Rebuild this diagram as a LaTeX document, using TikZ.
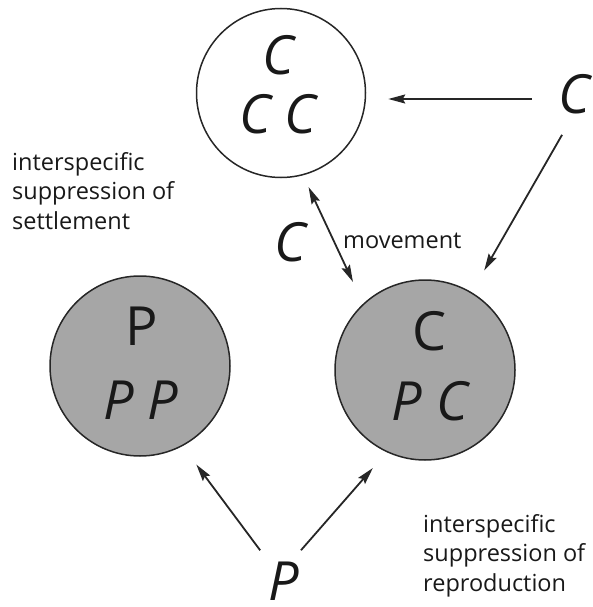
\documentclass[tikz,border=0pt]{standalone}
\usepackage{fontspec}
\setmainfont{Open Sans}
\usetikzlibrary{arrows.meta}
\newcommand{\spfont}{\fontsize{54}{60}\selectfont}
\newcommand{\lblfont}{\fontsize{23.5}{29.5}\selectfont}
\tikzset{
  patch/.style={circle, draw=black!85, line width=1.5pt, inner sep=0pt},
  occupied/.style={patch, fill=black!35, minimum size=180pt},
  sp/.style={inner sep=0pt, text=black!90, font=\spfont\itshape},
  spup/.style={inner sep=0pt, text=black!90, font=\spfont},
  lbl/.style={inner sep=0pt, align=left, text=black!90, font=\lblfont},
  tip/.style={Stealth[length=17pt,width=9pt,inset=2.5pt]},
  arr/.style={-{Stealth[length=17pt,width=9pt,inset=2.5pt]}, line width=1.8pt, draw=black!85},
  dbl/.style={{Stealth[length=17pt,width=9pt,inset=2.5pt]}-{Stealth[length=17pt,width=9pt,inset=2.5pt]}, line width=1.8pt, draw=black!85}
}
\begin{document}
\begin{tikzpicture}[x=1pt,y=-1pt]
  \useasboundingbox (0,0) rectangle (593,607);
  %Kreise
  \node[patch, minimum size=169pt] (top) at (281,93) {};
  \node[occupied] (left) at (140,366) {};
  \node[occupied] (right) at (425,370) {};
  %Arten in den Kreisen
  \node[sp] (topC) at (278,55) {C};
  \node[sp] (topCC) at (278,114) {C C};
  \node[spup] (leftP) at (142,326) {P};
  \node[sp] (leftPP) at (141,400) {P P};
  \node[spup] (rightC) at (430,331) {C};
  \node[sp] (rightPC) at (430,401) {P C};
  %Aussen
  \node[sp] (cR) at (574,94) {C};
  \node[sp] (cM) at (290,242) {C};
  \node[sp] (pB) at (284,581) {P};
  \node[lbl, anchor=base west] (mov) at (343,248) {movement};
  \node[lbl, anchor=north west] (settle) at (12,152) {interspecific\\suppression of\\settlement};
  \node[lbl, anchor=north west] (repro) at (423,514) {interspecific\\suppression of\\reproduction};
  %Pfeile
  \coordinate (hArr) at ([yshift=-5pt]cR.west);
  \draw[arr, shorten <=26pt, shorten >=22pt] (hArr) -- (hArr -| top.east);
  \draw[arr, shorten <=24pt, shorten >=25pt] (cR.south) -- (right.59);
  \draw[dbl, shorten <=13pt, shorten >=24pt] (top.285) -- (right.133);
  \draw[arr, shorten <=14pt, shorten >=23pt] (pB.north west) -- (left.298);
  \draw[arr, shorten <=15pt, shorten >=21pt] (pB.70) -- (right.245);
\end{tikzpicture}
\end{document}
